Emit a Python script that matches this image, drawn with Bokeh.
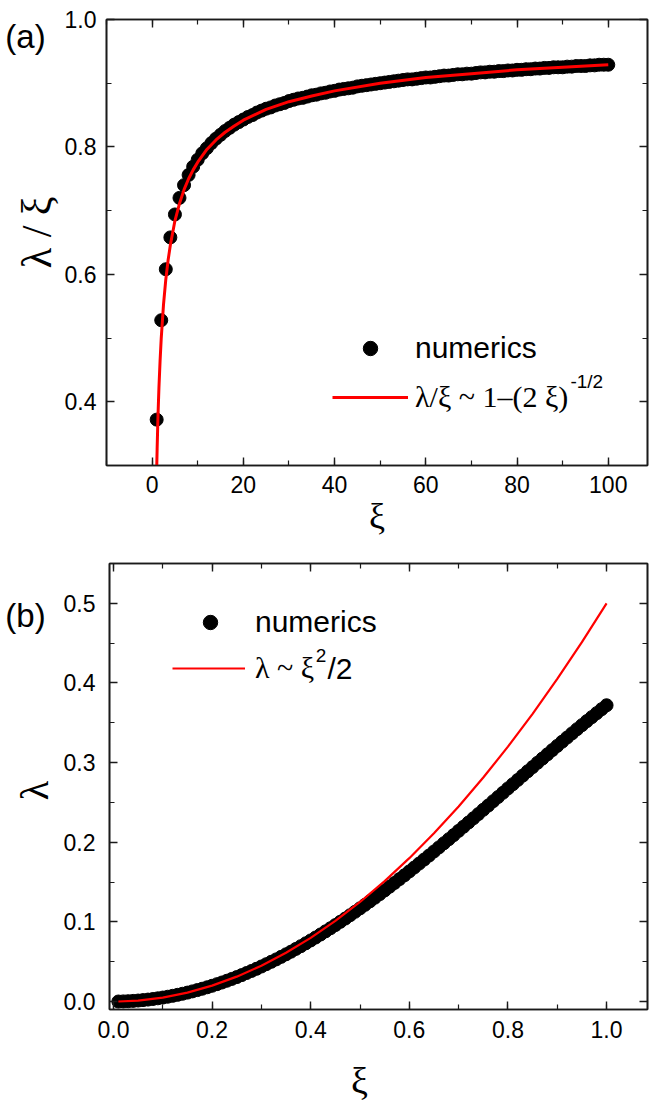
import math
from bokeh.plotting import figure
from bokeh.layouts import column, row
from bokeh.models import (LinearAxis, SingleIntervalTicker, Range1d, Legend, LegendItem,
                          Label, NumeralTickFormatter, CustomLabelingPolicy)
from bokeh.core.properties import value
from bokeh.embed import file_html
from bokeh.resources import INLINE

# ---------------- data, panel (a) ----------------
xi_a = list(range(1, 101))
lam_over_xi_a = [
    0.372, 0.528, 0.608, 0.658, 0.694, 0.720, 0.740, 0.756, 0.769, 0.780,
    0.790, 0.798, 0.806, 0.813, 0.819, 0.825, 0.830, 0.835, 0.839, 0.843,
    0.847, 0.850, 0.854, 0.857, 0.860, 0.862, 0.865, 0.867, 0.869, 0.872,
    0.874, 0.876, 0.877, 0.879, 0.881, 0.882, 0.884, 0.885, 0.887, 0.888,
    0.890, 0.891, 0.892, 0.893, 0.895, 0.896, 0.897, 0.898, 0.899, 0.900,
    0.901, 0.902, 0.903, 0.904, 0.905, 0.906, 0.906, 0.907, 0.908, 0.909,
    0.909, 0.910, 0.911, 0.912, 0.912, 0.913, 0.914, 0.914, 0.915, 0.915,
    0.916, 0.917, 0.917, 0.918, 0.918, 0.919, 0.919, 0.920, 0.920, 0.921,
    0.921, 0.922, 0.922, 0.923, 0.923, 0.924, 0.924, 0.925, 0.925, 0.925,
    0.926, 0.926, 0.927, 0.927, 0.927, 0.928, 0.928, 0.929, 0.929, 0.929,
]
fit_xi_a = [1.0, 1.1, 1.2, 1.3, 1.4, 1.5, 1.75, 2, 2.5, 3, 3.5, 4, 5, 6, 7, 8, 9, 10,
            12, 14, 16, 18, 20, 25, 30, 35, 40, 50, 60, 70, 80, 90, 100]
fit_val_a = [0.293, 0.326, 0.354, 0.380, 0.402, 0.423, 0.465, 0.500, 0.553, 0.592,
             0.622, 0.646, 0.684, 0.711, 0.733, 0.750, 0.764, 0.776, 0.796, 0.811,
             0.823, 0.833, 0.842, 0.859, 0.871, 0.880, 0.888, 0.900, 0.909, 0.915,
             0.921, 0.925, 0.929]

# ---------------- data, panel (b) ----------------
xi_b = [round(0.01 * i, 2) for i in range(1, 101)]
lam_b = [
    0.00005, 0.0002, 0.00045, 0.0008, 0.00125, 0.0018, 0.00245, 0.00319, 0.00404, 0.00499,
    0.00603, 0.00717, 0.00841, 0.00975, 0.01119, 0.01272, 0.01434, 0.01607, 0.01788, 0.0198,
    0.0218, 0.0239, 0.0261, 0.0284, 0.0307, 0.0332, 0.0358, 0.0384, 0.0411, 0.0440,
    0.0469, 0.0499, 0.0529, 0.0561, 0.0593, 0.0626, 0.0661, 0.0695, 0.0731, 0.0767,
    0.0804, 0.0842, 0.0881, 0.0920, 0.0960, 0.1001, 0.1042, 0.1084, 0.1127, 0.1170,
    0.1214, 0.1258, 0.1303, 0.1349, 0.1395, 0.1442, 0.1489, 0.1537, 0.1585, 0.1634,
    0.1683, 0.1733, 0.1783, 0.1833, 0.1884, 0.1935, 0.1987, 0.2038, 0.2090, 0.2143,
    0.2195, 0.2248, 0.2301, 0.2354, 0.2408, 0.2461, 0.2515, 0.2568, 0.2622, 0.2676,
    0.2729, 0.2783, 0.2837, 0.2891, 0.2944, 0.2998, 0.3051, 0.3104, 0.3157, 0.3210,
    0.3263, 0.3315, 0.3367, 0.3419, 0.3470, 0.3521, 0.3571, 0.3621, 0.3671, 0.3720,
]
fit_xi_b = [0.01, 0.05, 0.10, 0.15, 0.20, 0.25, 0.30, 0.35, 0.40, 0.45, 0.50,
            0.55, 0.60, 0.65, 0.70, 0.75, 0.80, 0.85, 0.90, 0.95, 1.00]
fit_val_b = [0.00005, 0.00125, 0.005, 0.01125, 0.02, 0.03125, 0.045, 0.06125, 0.08,
             0.10125, 0.125, 0.15125, 0.18, 0.21125, 0.245, 0.28125, 0.32, 0.36125,
             0.405, 0.45125, 0.5]

SANS = "Liberation Sans"
SERIF = "Liberation Serif"
RED = "#ff0000"
AX = "#1a1a1a"
LEFT_W = 60


def style_axis(ax, labels=True):
    ax.axis_line_color = AX
    ax.axis_line_width = 1.6
    ax.major_tick_line_color = AX
    ax.minor_tick_line_color = AX
    ax.major_tick_line_width = 1.4
    ax.minor_tick_line_width = 1.2
    ax.major_tick_in = 8
    ax.major_tick_out = 0
    ax.minor_tick_in = 5
    ax.minor_tick_out = 0
    if labels:
        ax.major_label_text_font = SANS
        ax.major_label_text_font_size = "23px"
        ax.major_label_text_color = "black"
    else:
        ax.major_label_text_font_size = "1px"
        ax.major_label_standoff = 0
        ax.major_label_policy = CustomLabelingPolicy(code="return []")
        ax.axis_label = None


def make_fig(xr, yr, width, height, mbl, mbt, mbb):
    p = figure(width=width, height=height, x_range=xr, y_range=yr, title=None,
               output_backend="svg", toolbar_location=None,
               min_border_left=mbl, min_border_right=0, min_border_top=mbt,
               min_border_bottom=mbb)
    p.xgrid.visible = False
    p.ygrid.visible = False
    p.outline_line_color = AX
    p.outline_line_width = 1.6
    p.background_fill_color = "white"
    p.border_fill_color = "white"
    return p


def add_frame_axes(p, xt, yt):
    top = LinearAxis(ticker=xt)
    style_axis(top, labels=False)
    p.add_layout(top, "above")
    right = LinearAxis(ticker=yt)
    style_axis(right, labels=False)
    p.add_layout(right, "right")


def side_fig(height, yr, mbt, mbb):
    # same vertical geometry and y range as the panel it sits beside
    f = figure(width=LEFT_W, height=height, x_range=Range1d(0, LEFT_W),
               y_range=Range1d(yr.start, yr.end), title=None,
               output_backend="svg", toolbar_location=None,
               min_border_left=0, min_border_right=0, min_border_top=mbt,
               min_border_bottom=mbb, x_axis_location=None, y_axis_location=None)
    f.grid.visible = False
    f.outline_line_color = None
    f.background_fill_color = "white"
    f.border_fill_color = "white"
    return f


def legend(item_label, rend, loc, gw, standoff, font, size="30px"):
    return Legend(items=[LegendItem(label=item_label, renderers=[rend])],
                  location=loc, padding=0, margin=0, spacing=0,
                  glyph_width=gw, glyph_height=36, label_height=36,
                  label_standoff=standoff, label_text_font=font,
                  label_text_font_size=size, label_text_color="black",
                  border_line_color=None, background_fill_alpha=0)


# ================= panel (a) =================
H1 = 545
yr1 = Range1d(0.3, 1.0)
p1 = make_fig(Range1d(-10, 108.6), yr1, 651 - LEFT_W, H1, 106 - LEFT_W, 19, 80)
xt1 = SingleIntervalTicker(interval=20, num_minor_ticks=2)
yt1 = SingleIntervalTicker(interval=0.2, num_minor_ticks=2)
p1.xaxis.ticker = xt1
p1.yaxis.ticker = yt1
p1.yaxis.formatter = NumeralTickFormatter(format="0.0")
for ax in p1.xaxis + p1.yaxis:
    style_axis(ax)
p1.xaxis.major_label_standoff = 10
p1.yaxis.major_label_standoff = 10
p1.xaxis.axis_label = "ξ"
p1.xaxis.axis_label_text_font = SERIF
p1.xaxis.axis_label_text_font_style = "normal"
p1.xaxis.axis_label_text_color = "black"
p1.xaxis.axis_label_text_font_size = "36px"
p1.xaxis.axis_label_standoff = 0
add_frame_axes(p1, xt1, yt1)

pts1 = p1.scatter(xi_a, lam_over_xi_a, size=13, color="black")
fit1 = p1.line(fit_xi_a, fit_val_a, line_color=RED, line_width=3)

p1.add_layout(legend("numerics", pts1, (244, 99), 40, 25, SANS))
p1.add_layout(legend("λ/ξ ~ 1–(2 ξ)", fit1, (226, 50), 76, 7, SERIF))
p1.add_layout(Label(x=91.7, y=0.432, text="-1/2", text_font=SANS,
                    text_font_size="19px", text_baseline="middle", text_color="black"))

s1 = side_fig(H1, yr1, 19, 80)
s1.text(x=[25], y=[0.974], text=["(a)"], text_font=value(SANS),
        text_font_size="33px", text_align="center", text_baseline="middle",
        text_color="black")
s1.text(x=[36], y=[0.666], text=["λ / ξ"], angle=math.pi / 2,
        text_font=value(SERIF), text_font_size="42px", text_align="center",
        text_baseline="middle", text_color="black")

# ================= panel (b) =================
H2 = 560
TOP2 = 563 - H1
BOT2 = H2 - TOP2 - 446
yr2 = Range1d(-0.01, 0.55)
p2 = make_fig(Range1d(-0.008, 1.083), yr2, 651 - LEFT_W, H2, 109 - LEFT_W, TOP2, BOT2)
xt2 = SingleIntervalTicker(interval=0.2, num_minor_ticks=2)
yt2 = SingleIntervalTicker(interval=0.1, num_minor_ticks=2)
p2.xaxis.ticker = xt2
p2.yaxis.ticker = yt2
p2.xaxis.formatter = NumeralTickFormatter(format="0.0")
p2.yaxis.formatter = NumeralTickFormatter(format="0.0")
for ax in p2.xaxis + p2.yaxis:
    style_axis(ax)
p2.xaxis.major_label_standoff = 11
p2.yaxis.major_label_standoff = 14
p2.xaxis.axis_label = "ξ\u00a0\u00a0\u00a0\u00a0"
p2.xaxis.axis_label_text_font = SERIF
p2.xaxis.axis_label_text_font_style = "normal"
p2.xaxis.axis_label_text_color = "black"
p2.xaxis.axis_label_text_font_size = "38px"
p2.xaxis.axis_label_standoff = 19
add_frame_axes(p2, xt2, yt2)

pts2 = p2.scatter(xi_b, lam_b, size=13, color="black")
fit2 = p2.line(fit_xi_b, fit_val_b, line_color=RED, line_width=2.2)

p2.add_layout(legend("numerics", pts2, (81, 369), 40, 25, SANS))
p2.add_layout(legend("λ ~ ξ", fit2, (63, 323), 73, 10, SERIF))
p2.add_layout(Label(x=0.410, y=0.4345, text="2", text_font=SANS,
                    text_font_size="19px", text_baseline="middle", text_color="black"))
p2.add_layout(Label(x=0.434, y=0.418, text="/2", text_font=SANS,
                    text_font_size="30px", text_baseline="middle", text_color="black"))

s2 = side_fig(H2, yr2, TOP2, BOT2)
s2.text(x=[25], y=[0.485], text=["(b)"], text_font=value(SANS),
        text_font_size="33px", text_align="center", text_baseline="middle",
        text_color="black")
s2.text(x=[34], y=[0.265], text=["λ"], angle=math.pi / 2,
        text_font=value(SERIF), text_font_size="40px", text_align="center",
        text_baseline="middle", text_color="black")

layout = column(row(s1, p1), row(s2, p2))
open("out.html", "w").write(file_html(layout, INLINE))
